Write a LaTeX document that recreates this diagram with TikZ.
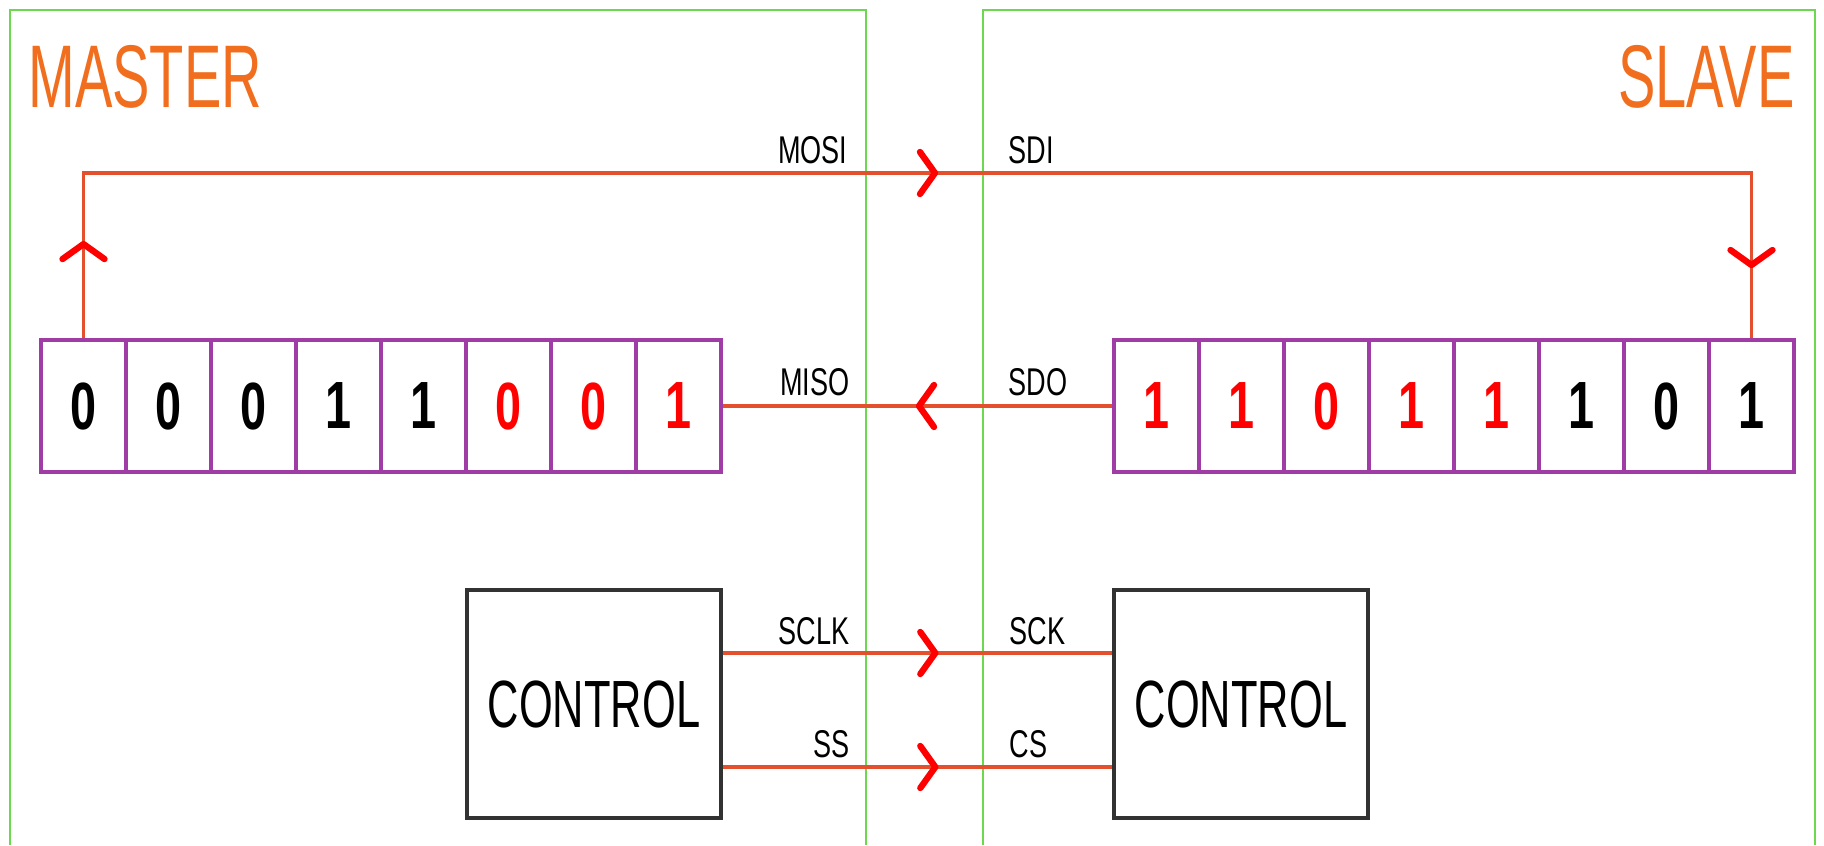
\documentclass[tikz,border=0pt]{standalone}
\usepackage{graphicx}
\usepackage{fontspec}
\setmainfont{Liberation Sans}
\usetikzlibrary{arrows.meta,decorations.markings}

\definecolor{framegreen}{RGB}{110,215,80}
\definecolor{titleorange}{RGB}{240,110,30}
\definecolor{wirered}{RGB}{228,80,45}
\definecolor{regpurple}{RGB}{160,60,165}
\definecolor{boxgray}{RGB}{50,50,50}

\newcommand{\narrowtext}[2]{\scalebox{#1}[1]{#2}}

\tikzset{
  chev/.tip={Straight Barb[length=1.5mm, width=4.2mm, line width=1.8pt, round, color=red]},
  frame/.style={framegreen, line width=0.7pt},
  title/.style={titleorange, font=\fontsize{25.3}{30}\selectfont, inner sep=0pt, xscale=.63},
  wire/.style={wirered, line width=0.9pt},
  wire label/.style={font=\fontsize{11}{13}\selectfont, inner sep=0pt, xscale=.7},
  cell/.style={draw=regpurple, line width=1.15pt, minimum width=0.85cm, minimum height=1.32cm,
    inner sep=0pt, font=\fontsize{19}{22}\selectfont\bfseries},
  control/.style={draw=boxgray, line width=1.3pt, minimum width=2.54cm, minimum height=2.28cm,
    inner sep=0pt, font=\fontsize{19}{22}\selectfont},
  flow at/.style={postaction={decorate, decoration={markings, mark=at position #1 with {\arrow{chev}}}}},
}

\begin{document}
\begin{tikzpicture}[x=0.01cm, y=-0.01cm]
  \useasboundingbox (0,0) rectangle (1824,845);

  % Master and slave frames (open at the bottom)
  \draw[frame] (10,845) -- (10,10) -- (866,10) -- (866,845);
  \draw[frame] (983,845) -- (983,10) -- (1815,10) -- (1815,845);
  \node[title, anchor=base west] (master) at (28,107) {MASTER};
  \node[title, anchor=base east] (slave) at (1795,107) {SLAVE};

  % Shift registers
  \foreach \b/\c [count=\i] in {0/black,0/black,0/black,1/black,1/black,0/red,0/red,1/red}
    \node[cell, text=\c] (m\i) at ({-1.5+85*\i},406) {\narrowtext{.7}{\b}};
  \foreach \b/\c [count=\i] in {1/red,1/red,0/red,1/red,1/red,1/black,0/black,1/black}
    \node[cell, text=\c] (s\i) at ({1071.5+85*\i},406) {\narrowtext{.7}{\b}};

  % Control blocks
  \node[control] (mctrl) at (594,704) {\narrowtext{.65}{CONTROL}};
  \node[control] (sctrl) at (1241,704) {\narrowtext{.65}{CONTROL}};

  % Wires
  \coordinate (mosi) at (0,173);
  \coordinate (sclk) at (0,653);
  \coordinate (ss) at (0,767);
  \draw[wire, flow at=0.97cm, flow at=10.19cm, flow at=19.27cm]
    (m1.north) |- (s8.north |- mosi) -- (s8.north);
  \draw[wire, flow at=1.96cm] (s1.west) -- (m8.east);
  \draw[wire, flow at=2.15cm] (mctrl.east |- sclk) -- (sctrl.west |- sclk);
  \draw[wire, flow at=2.15cm] (mctrl.east |- ss) -- (sctrl.west |- ss);

  % Signal names
  \node[wire label, anchor=base east] (mosi lbl) at (848,163) {MOSI};
  \node[wire label, anchor=base west] (sdi lbl) at (1008,163) {SDI};
  \node[wire label, anchor=base east] (miso lbl) at (850,395) {MISO};
  \node[wire label, anchor=base west] (sdo lbl) at (1008,395) {SDO};
  \node[wire label, anchor=base east] (sclk lbl) at (850,644) {SCLK};
  \node[wire label, anchor=base east] (ss lbl) at (850,757) {SS};
  \node[wire label, anchor=base west] (sck lbl) at (1009,644) {SCK};
  \node[wire label, anchor=base west] (cs lbl) at (1009,757) {CS};
\end{tikzpicture}
\end{document}
